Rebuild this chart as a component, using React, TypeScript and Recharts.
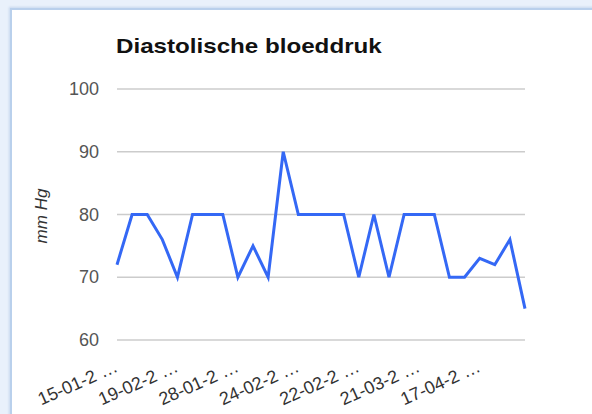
import { LineChart, Line, XAxis, YAxis, CartesianGrid } from "recharts";

const dates = [
  "15-01-2014", "22-01-2014", "05-02-2014", "12-02-2014",
  "19-02-2014", "26-02-2014", "03-02-2014", "10-01-2014",
  "28-01-2014", "04-02-2014", "11-03-2014", "18-02-2014",
  "24-02-2014", "25-02-2014", "26-02-2014", "27-02-2014",
  "22-02-2014", "01-03-2014", "07-03-2014", "14-03-2014",
  "21-03-2014", "28-03-2014", "04-04-2014", "11-04-2014",
  "17-04-2014", "24-04-2014", "01-05-2014", "08-05-2014",
];
const diastolic = [
  72, 80, 80, 76, 70, 80, 80, 80, 70, 75, 70, 90, 80, 80,
  80, 80, 70, 80, 70, 80, 80, 80, 70, 70, 73, 72, 76, 65,
];
const yTicks = [60, 70, 80, 90, 100];

const data = dates.map((d, i) => ({ date: d, value: diastolic[i] }));

const FONT = "'Liberation Sans', Arial, sans-serif";

function shortDate(d: string) {
  return `${d.slice(0, 7)} …`;
}

function XTick(props: any) {
  const { x, y, payload } = props;
  return (
    <text
      transform={`translate(${x + 2},${y}) rotate(-24)`}
      textAnchor="end"
      fontSize={18}
      fill="#333"
      fontFamily={FONT}
    >
      {shortDate(payload.value)}
    </text>
  );
}

function YTick(props: any) {
  const { x, y, payload } = props;
  return (
    <text x={x} y={y} dy={6} textAnchor="end" fontSize={18} fill="#555" fontFamily={FONT}>
      {payload.value}
    </text>
  );
}

export default function App() {
  return (
    <div style={{ position: "relative", width: 592, height: 414, background: "#e9f1fb", overflow: "hidden" }}>
      <style>{`body{margin:0}`}</style>
      <div
        style={{
          position: "absolute",
          left: 10,
          top: 8,
          width: 600,
          height: 420,
          background: "#fff",
          borderLeft: "2px solid #b9d0ec",
          borderTop: "2px solid #b9d0ec",
          boxShadow: "-1px -1px 2px rgba(150,180,220,0.4)",
        }}
      />
      <div
        style={{
          position: "absolute",
          left: 116,
          top: 34,
          fontFamily: FONT,
          fontWeight: "bold",
          fontSize: 21,
          color: "#111",
          transform: "scaleX(1.15)",
          transformOrigin: "left top",
          whiteSpace: "nowrap",
        }}
      >
        Diastolische bloeddruk
      </div>
      <div style={{ position: "absolute", left: 0, top: 0 }}>
        <LineChart width={592} height={414} data={data} margin={{ top: 89, right: 67, bottom: 24, left: 0 }}>
          <CartesianGrid vertical={false} stroke="#cccccc" strokeWidth={1.5} />
          <XAxis
            dataKey="date"
            interval={3}
            axisLine={false}
            tickLine={false}
            tickSize={0}
            tickMargin={31}
            height={50}
            tick={<XTick />}
          />
          <YAxis
            domain={[60, 100]}
            ticks={yTicks}
            width={117}
            axisLine={false}
            tickLine={false}
            tickSize={0}
            tickMargin={18}
            tick={<YTick />}
            label={{
              content: () => (
                <text
                  transform="translate(47,216) rotate(-90)"
                  textAnchor="middle"
                  fontSize={17}
                  fontStyle="italic"
                  fill="#333"
                  fontFamily={FONT}
                >
                  mm Hg
                </text>
              ),
            }}
          />
          <Line
            type="linear"
            dataKey="value"
            stroke="#3468f5"
            strokeWidth={3}
            dot={false}
            isAnimationActive={false}
          />
        </LineChart>
      </div>
    </div>
  );
}
